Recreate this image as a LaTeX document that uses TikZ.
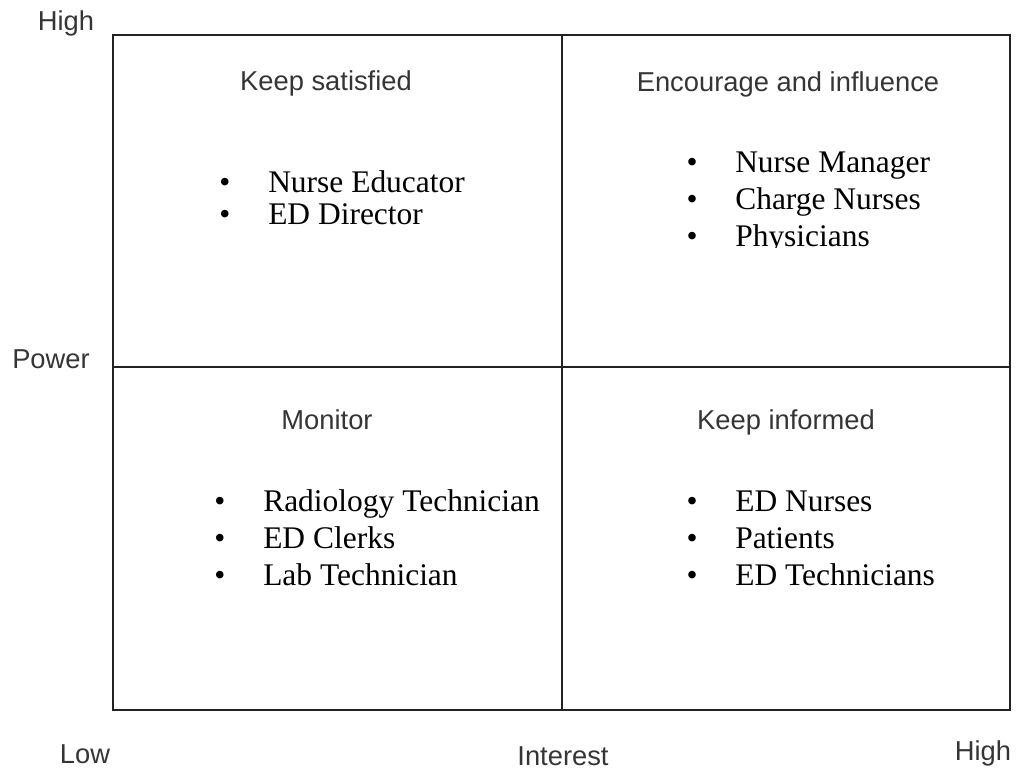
\documentclass[tikz,border=0pt]{standalone}
\usepackage{fontspec}
\setmainfont{Liberation Serif}
\setsansfont{Liberation Sans}
\usepackage{xcolor}
\usepackage{tikz}
\usetikzlibrary{positioning}

\definecolor{gridline}{HTML}{222222}
\definecolor{headgray}{HTML}{353535}

\tikzset{
    grid/.style={draw=gridline, line width=2.2pt},
    head/.style={font=\sffamily\fontsize{20.5}{24}\selectfont, text=headgray, inner sep=0pt, anchor=base},
    axis/.style={font=\sffamily\fontsize{20.5}{24}\selectfont, text=headgray, inner sep=0pt, anchor=base},
    item/.style={font=\fontsize{23.6}{27}\selectfont, inner sep=0pt, anchor=base west},
    dot/.style={font=\fontsize{23.6}{27}\selectfont, inner sep=0pt, anchor=base}
}

\begin{document}
\begin{tikzpicture}[x=0.75pt, y=-0.75pt]
    \useasboundingbox (0,0) rectangle (1016,772);

    % frame and quadrants
    \coordinate (nw) at (113,35);
    \coordinate (se) at (1010,710);
    \coordinate (midtop) at (562,35);
    \coordinate (midbot) at (562,710);
    \coordinate (midleft) at (113,367);
    \coordinate (midright) at (1010,367);
    \draw[grid] (nw) rectangle (se);
    \draw[grid] (midtop) -- (midbot);
    \draw[grid] (midleft) -- (midright);

    % axis labels
    \node[axis] (powhigh) at (66,30) {High};
    \node[axis] (power) at (51,368) {Power};
    \node[axis] (intlow) at (85,763) {Low};
    \node[axis] (interest) at (563,765) {Interest};
    \node[axis] (inthigh) at (983,760) {High};

    % quadrant titles
    \node[head] (satisfied) at (326,90) {Keep satisfied};
    \node[head] (encourage) at (788,91) {Encourage and influence};
    \node[head] (monitor) at (327,429) {Monitor};
    \node[head] (informed) at (786,429) {Keep informed};

    % keep satisfied
    \foreach \txt [count=\i] in {Nurse Educator, ED Director} {
        \node[dot] (ksdot\i) at (225,{192+32*(\i-1)}) {\textbullet};
        \node[item] (ks\i) at (268,{192+32*(\i-1)}) {\txt};
    }

    % encourage and influence (last line cut off)
    \begin{scope}
        \clip (600,120) rectangle (1000,247);
        \foreach \txt [count=\i] in {Nurse Manager, Charge Nurses, Physicians} {
            \node[dot] (eidot\i) at (692,{172+37*(\i-1)}) {\textbullet};
            \node[item] (ei\i) at (735,{172+37*(\i-1)}) {\txt};
        }
    \end{scope}

    % monitor
    \foreach \txt [count=\i] in {Radiology Technician, ED Clerks, Lab Technician} {
        \node[dot] (modot\i) at (220,{511+37*(\i-1)}) {\textbullet};
        \node[item] (mo\i) at (263,{511+37*(\i-1)}) {\txt};
    }

    % keep informed
    \foreach \txt [count=\i] in {ED Nurses, Patients, ED Technicians} {
        \node[dot] (kidot\i) at (692,{511+37*(\i-1)}) {\textbullet};
        \node[item] (ki\i) at (735,{511+37*(\i-1)}) {\txt};
    }
\end{tikzpicture}
\end{document}
